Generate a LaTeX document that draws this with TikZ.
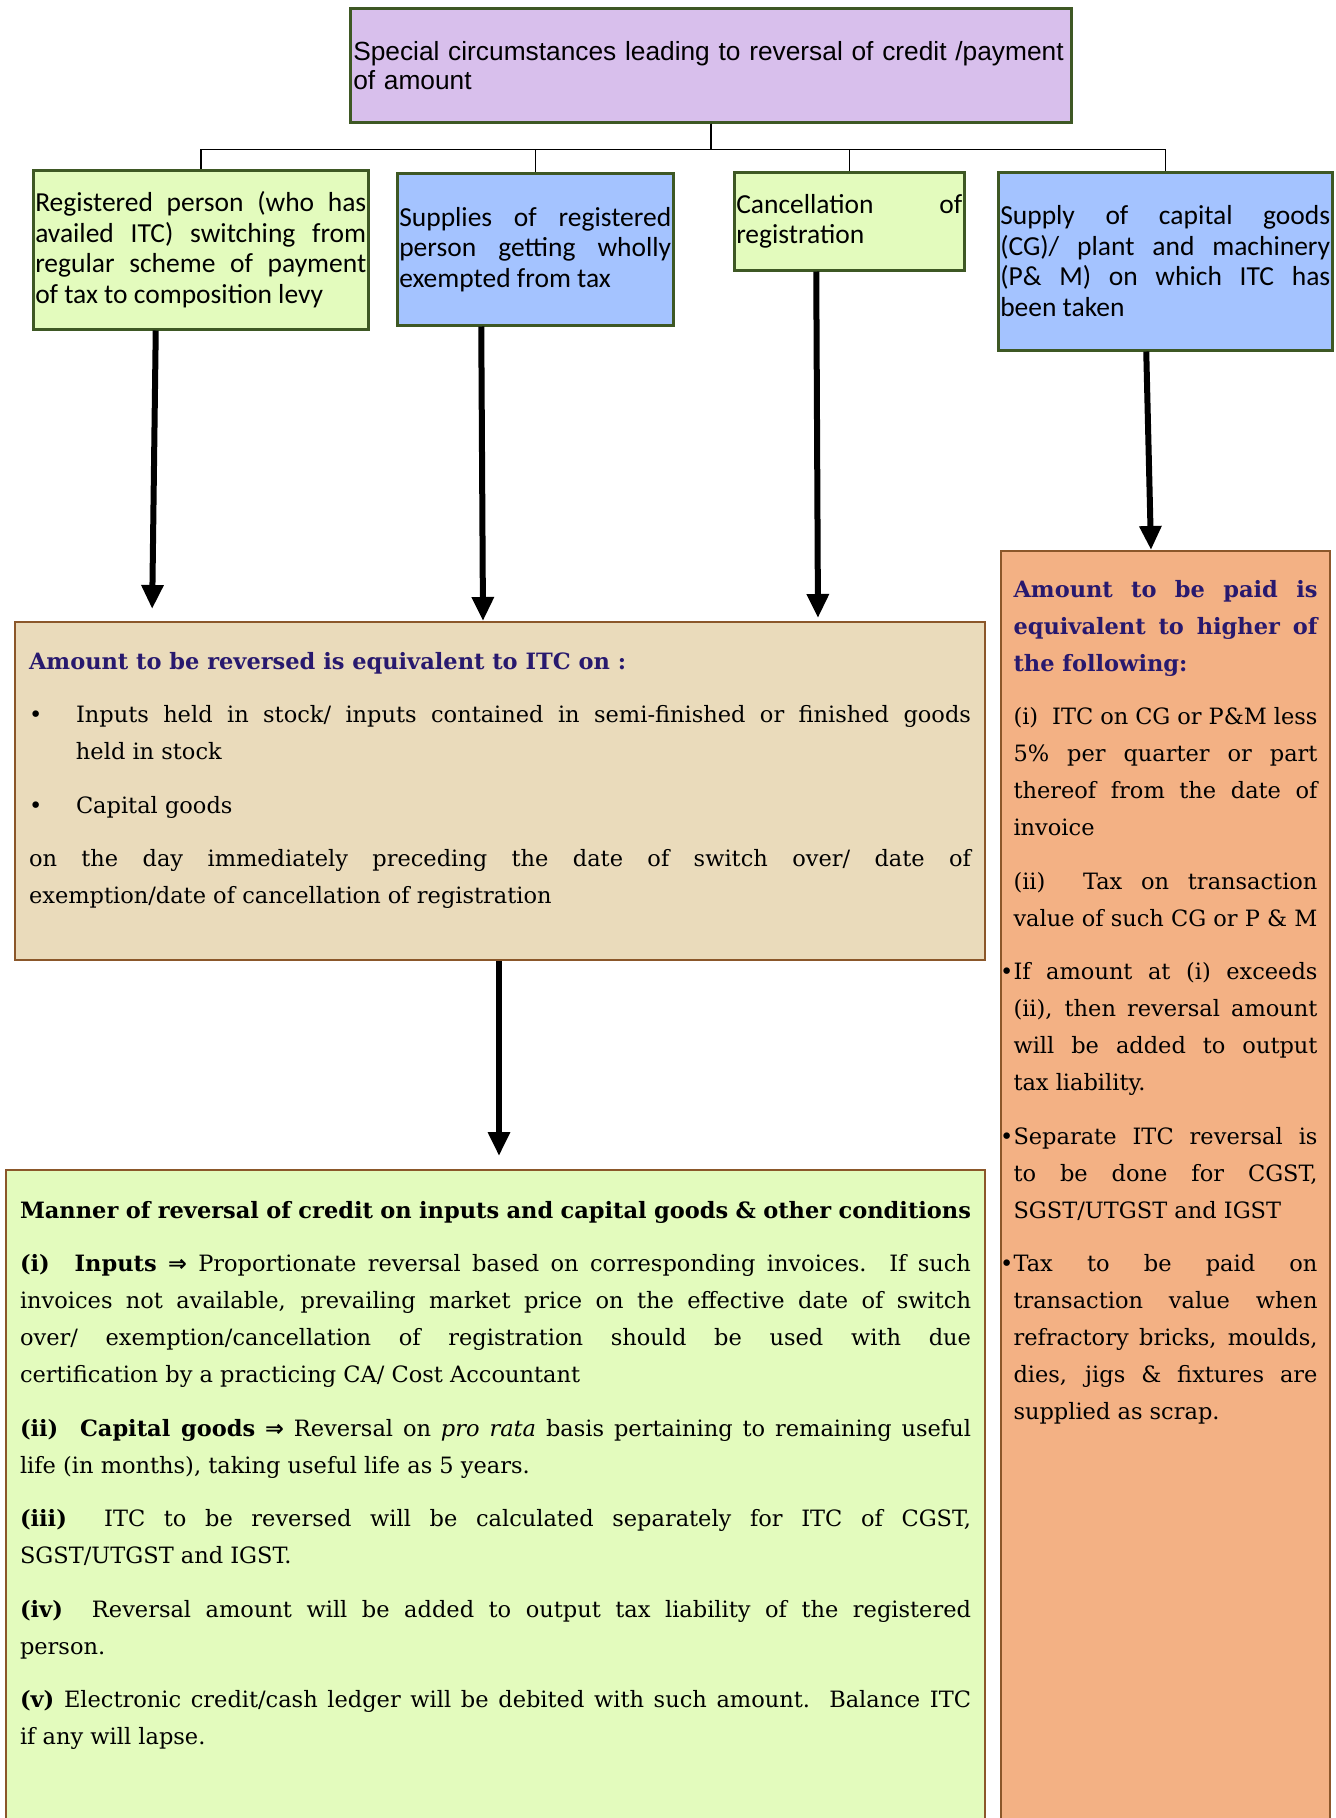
\documentclass[tikz,border=0pt]{standalone}
\usepackage{fontspec}
\setmainfont{DejaVu Serif}
\newfontfamily\headfont{Liberation Sans}
\newfontfamily\boxfont{Carlito}
\newfontfamily\symfont{DejaVu Sans}
\usetikzlibrary{arrows.meta}

\definecolor{lilac}{RGB}{216,191,236}
\definecolor{limebox}{RGB}{227,251,189}
\definecolor{skybox}{RGB}{164,195,255}
\definecolor{sandbox}{RGB}{234,219,187}
\definecolor{peachbox}{RGB}{243,177,132}
\definecolor{greenrim}{RGB}{62,88,36}
\definecolor{brownrim}{RGB}{139,87,42}
\definecolor{headblue}{RGB}{40,25,110}

\newcommand{\bodysize}{\fontsize{22.5pt}{37pt}\selectfont\parskip=16.5pt}
\newcommand{\dimp}{{\symfont\bfseries ⇒}}
\newcommand{\dotitem}{\leavevmode\llap{\textbullet}}

\begin{document}
\begin{tikzpicture}[x=1pt,y=-1pt,line width=1.5pt,
  topbox/.style={draw=greenrim,line width=2.5pt,fill=lilac,anchor=north west,
    inner xsep=3pt,inner ysep=0pt,align=left,
    font=\headfont\fontsize{26.3pt}{29pt}\selectfont},
  casebox/.style={draw=greenrim,line width=2.5pt,anchor=north west,
    inner xsep=2pt,inner ysep=0pt,align=justify,
    font=\boxfont\fontsize{27.5pt}{30.5pt}\selectfont},
  notebox/.style={draw=brownrim,line width=2pt,anchor=north west,
    inner xsep=14pt,inner ysep=0pt},
  tree/.style={line width=1.5pt},
  bigarrow/.style={line width=6pt,-{Triangle[length=24pt,width=21pt]}}]
  \useasboundingbox (0,0) rectangle (1336,1818);
  \clip (0,0) rectangle (1336,1818);

  % top
  \node[topbox,minimum width=721pt,minimum height=114pt,text width=715pt] (special) at (349,7)
    {\mbox{Special circumstances leading to reversal of credit /payment}\\ of amount};

  % four cases
  \node[casebox,fill=limebox,minimum width=335pt,minimum height=159pt,text width=331pt] (switch) at (32,169)
    {Registered person (who has\linebreak availed ITC) switching from\linebreak regular scheme of payment\linebreak of tax to composition levy};
  \node[casebox,fill=skybox,minimum width=276pt,minimum height=152pt,text width=272pt] (exempt) at (396,172)
    {Supplies of registered\linebreak person getting wholly\linebreak exempted from tax};
  \node[casebox,fill=limebox,minimum width=230pt,minimum height=98pt,text width=226pt] (cancel) at (733,171)
    {Cancellation of\linebreak registration};
  \node[casebox,fill=skybox,minimum width=334pt,minimum height=178pt,text width=330pt] (capgoods) at (997,171)
    {Supply of capital goods\linebreak (CG)/ plant and machinery\linebreak (P\& M) on which ITC has\linebreak been taken};

  % results
  \node[notebox,fill=sandbox] (reverse) at (14,621)
    {\parbox[t][338pt][t]{942pt}{\bodysize
      \rule{0pt}{47pt}{\color{headblue}\bfseries Amount to be reversed is equivalent to ITC on :}\par
      \hangindent=47pt\hangafter=1\makebox[47pt][l]{\textbullet}Inputs held in stock/ inputs contained in semi-finished or finished goods\linebreak held in stock\par
      \makebox[47pt][l]{\textbullet}Capital goods\par
      on the day immediately preceding the date of switch over/ date of\linebreak exemption/date of cancellation of registration\par}};
  \node[notebox,fill=peachbox,inner xsep=12.5pt] (payable) at (1000,550)
    {\parbox[t][1300pt][t]{304pt}{\bodysize
      \rule{0pt}{46pt}{\color{headblue}\bfseries Amount to be paid is\linebreak equivalent to higher of\linebreak the following:}\par
      (i)\ \ ITC on CG or P\&M less\linebreak 5\% per quarter or part\linebreak thereof from the date of\linebreak invoice\par
      (ii)\ \ Tax on transaction\linebreak value of such CG or P \& M\par
      \dotitem If amount at (i) exceeds\linebreak (ii), then reversal amount\linebreak will be added to output\linebreak tax liability.\par
      \dotitem Separate ITC reversal is\linebreak to be done for CGST,\linebreak SGST/UTGST and IGST\par
      \dotitem Tax to be paid on\linebreak transaction value when\linebreak refractory bricks, moulds,\linebreak dies, jigs \& fixtures are\linebreak supplied as scrap.\par}};
  \node[notebox,fill=limebox] (manner) at (5,1169)
    {\parbox[t][700pt][t]{951pt}{\bodysize
      \rule{0pt}{48pt}\makebox[\linewidth][s]{\bfseries Manner of reversal of credit on inputs and capital goods \& other conditions}\par
      \textbf{(i)\ \ Inputs} \dimp\ Proportionate reversal based on corresponding invoices.\ \ If such\linebreak invoices not available, prevailing market price on the effective date of switch\linebreak over/ exemption/cancellation of registration should be used with due\linebreak certification by a practicing CA/ Cost Accountant\par
      \textbf{(ii)\ \ Capital goods} \dimp\ Reversal on \textit{pro rata} basis pertaining to remaining useful\linebreak life (in months), taking useful life as 5 years.\par
      \textbf{(iii)}\ \ ITC to be reversed will be calculated separately for ITC of CGST,\linebreak SGST/UTGST and IGST.\par
      \textbf{(iv)}\ \ Reversal amount will be added to output tax liability of the registered\linebreak person.\par
      \textbf{(v)}\ Electronic credit/cash ledger will be debited with such amount.\ \ Balance ITC\linebreak if any will lapse.\par}};

  % tree lines
  \draw[tree] (special.south) -- ++(0,26) -| (switch.north);
  \draw[tree] (special.south) -- ++(0,26) -| (exempt.north);
  \draw[tree] (special.south) -- ++(0,26) -| (cancel.north);
  \draw[tree] (special.south) -- ++(0,26) -| (capgoods.north);

  % thick arrows
  \draw[bigarrow,shorten >=12pt] ([xshift=-45pt]switch.south) -- ([xshift=-348pt]reverse.north);
  \draw[bigarrow] ([xshift=-54pt]exempt.south) -- ([xshift=-17pt]reverse.north);
  \draw[bigarrow,shorten >=3pt] ([xshift=-33pt]cancel.south) -- ([xshift=318pt]reverse.north);
  \draw[bigarrow] ([xshift=-19pt]capgoods.south) -- ([xshift=-14.5pt]payable.north);
  \draw[bigarrow,shorten >=13pt] ([xshift=-1pt]reverse.south) -- ([xshift=3.5pt]manner.north);
\end{tikzpicture}
\end{document}
